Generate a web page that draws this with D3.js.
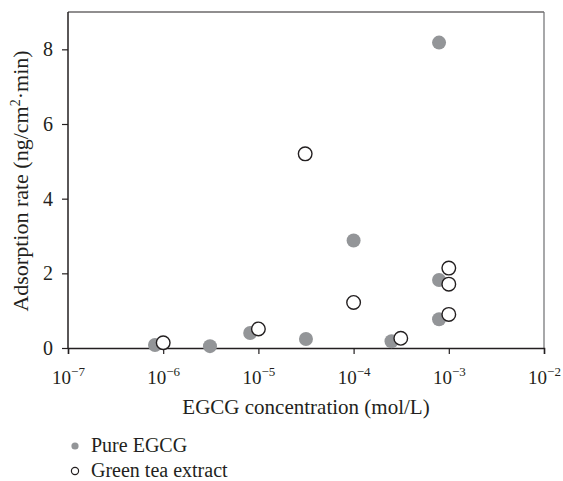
<!DOCTYPE html>
<html>
<head>
  <script src="https://cdn.jsdelivr.net/npm/d3@7"></script>
  <style>
    body { margin: 0; background: #fff; }
  </style>
</head>
<body>
  <svg id="chart" width="563" height="481"></svg>
  <script>
  const pureConc = [8.2e-7, 3.1e-6, 8.2e-6, 3.16e-5, 1e-4, 2.5e-4, 7.9e-4, 7.9e-4, 7.9e-4];
  const pureRate = [0.08, 0.05, 0.40, 0.24, 2.88, 0.18, 1.82, 0.77, 8.18];
  const teaConc = [1e-6, 1e-5, 3.1e-5, 1e-4, 3.13e-4, 1e-3, 1e-3, 1e-3];
  const teaRate = [0.14, 0.51, 5.20, 1.22, 0.26, 2.14, 1.71, 0.90];
  const xTicks = [-7, -6, -5, -4, -3, -2];
  const yTicks = [0, 2, 4, 6, 8];
  const legendLabels = ['Pure EGCG', 'Green tea extract'];

  const FONT = '"Liberation Serif", "Times New Roman", serif';
  const INK = '#231f20';

  const svg = d3.select('#chart');
  const m = { left: 68, right: 544, top: 12, bottom: 348 };

  const x = d3.scaleLog().domain([1e-7, 1e-2]).range([m.left, m.right]);
  const y = d3.scaleLinear().domain([0, 9]).range([m.bottom, m.top]);

  // frame top/right
  svg.append('line')
    .attr('x1', m.left).attr('x2', m.right).attr('y1', m.top).attr('y2', m.top)
    .attr('stroke', INK).attr('stroke-width', 1.2);
  svg.append('line')
    .attr('x1', m.right).attr('x2', m.right).attr('y1', m.top).attr('y2', m.bottom)
    .attr('stroke', '#6d6e71').attr('stroke-width', 1.2);

  // x axis
  const xAxis = d3.axisBottom(x)
    .tickValues(xTicks.map(e => Math.pow(10, e)))
    .tickSize(6).tickFormat('');
  const gx = svg.append('g').attr('transform', `translate(0,${m.bottom})`).call(xAxis);
  gx.select('.domain').attr('stroke', INK).attr('stroke-width', 1.5);
  gx.selectAll('.tick line').attr('stroke', INK).attr('stroke-width', 1.2);
  gx.selectAll('.tick').each(function(d) {
    const t = d3.select(this).append('text')
      .attr('y', 36).attr('text-anchor', 'middle')
      .style('font-family', FONT).style('font-size', '19px').style('fill', INK);
    t.append('tspan').text('10');
    t.append('tspan').attr('dy', -8).style('font-size', '13px')
      .text('\u2212' + Math.abs(Math.round(Math.log10(d))));
  });

  // y axis
  const yAxis = d3.axisLeft(y).tickValues(yTicks).tickSize(6).tickPadding(9);
  const gy = svg.append('g').attr('transform', `translate(${m.left},0)`).call(yAxis);
  gy.select('.domain').attr('stroke', INK).attr('stroke-width', 1.5)
    .attr('d', `M-0,${m.top}V${m.bottom}`);
  gy.selectAll('.tick line').attr('stroke', INK).attr('stroke-width', 1.2);
  gy.selectAll('.tick text')
    .style('font-family', FONT).style('font-size', '20px').style('fill', INK);

  // titles
  svg.append('text').attr('x', 306).attr('y', 414)
    .attr('text-anchor', 'middle')
    .style('font-family', FONT).style('font-size', '21px').style('fill', INK)
    .text('EGCG concentration (mol/L)');
  const yt = svg.append('text')
    .attr('transform', 'translate(28,181) rotate(-90)')
    .attr('text-anchor', 'middle')
    .style('font-family', FONT).style('font-size', '22px').style('fill', INK);
  yt.append('tspan').text('Adsorption rate (ng/cm');
  yt.append('tspan').attr('dy', -8).style('font-size', '14px').text('2');
  yt.append('tspan').attr('dy', 8).text('\u00b7min)');

  // points
  const pure = pureConc.map((c, i) => ({ c, r: pureRate[i] }));
  const tea = teaConc.map((c, i) => ({ c, r: teaRate[i] }));

  svg.append('g').selectAll('circle').data(pure).join('circle')
    .attr('cx', d => x(d.c)).attr('cy', d => y(d.r)).attr('r', 7)
    .attr('fill', '#939598');
  svg.append('g').selectAll('circle').data(tea).join('circle')
    .attr('cx', d => x(d.c)).attr('cy', d => y(d.r)).attr('r', 6.8)
    .attr('fill', '#fff').attr('stroke', INK).attr('stroke-width', 1.4);

  // legend
  const lg = svg.append('g').attr('transform', 'translate(75,446)');
  legendLabels.forEach((label, i) => {
    const row = lg.append('g').attr('transform', `translate(0,${i * 25})`);
    row.append('circle').attr('r', 3.6)
      .attr('fill', i === 0 ? '#939598' : '#fff')
      .attr('stroke', i === 0 ? 'none' : INK).attr('stroke-width', 1.2);
    row.append('text').attr('x', 16).attr('y', 6)
      .style('font-family', FONT).style('font-size', '20px').style('fill', INK)
      .text(label);
  });
  </script>
</body>
</html>
